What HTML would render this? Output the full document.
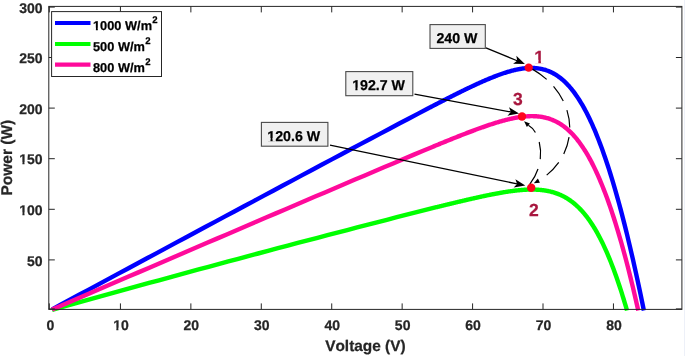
<!DOCTYPE html>
<html><head><meta charset="utf-8"><style>
html,body{margin:0;padding:0;background:#fff;}
body{width:685px;height:356px;overflow:hidden;font-family:"Liberation Sans",sans-serif;}
svg{display:block;will-change:transform;}
text{font-family:"Liberation Sans",sans-serif;font-weight:bold;font-kerning:none;text-rendering:geometricPrecision;}
</style></head><body>
<svg width="685" height="356" viewBox="0 0 685 356">
<rect x="684" y="0" width="1" height="356" fill="#edf0f8"/>
<g fill="none" stroke-width="4.4" stroke-linejoin="round" stroke-linecap="butt">
<path d="M52.11 309.36 L59.70 305.27 L69.40 300.04 L79.10 294.81 L88.80 289.59 L98.51 284.36 L108.21 279.14 L117.91 273.93 L127.61 268.71 L137.31 263.49 L147.01 258.28 L156.71 253.07 L166.41 247.86 L176.11 242.66 L185.82 237.45 L195.52 232.25 L205.22 227.05 L214.92 221.85 L224.62 216.65 L234.32 211.46 L244.02 206.27 L253.72 201.08 L263.43 195.89 L273.13 190.70 L282.83 185.52 L292.53 180.34 L302.23 175.16 L311.93 169.98 L321.63 164.81 L331.33 159.64 L341.04 154.47 L350.74 149.30 L360.44 144.14 L370.14 138.98 L379.85 133.83 L389.55 128.69 L399.26 123.55 L408.97 118.43 L418.68 113.33 L428.39 108.25 L429.08 107.90 L429.77 107.54 L430.46 107.18 L431.15 106.82 L431.84 106.46 L432.53 106.11 L433.22 105.75 L433.91 105.39 L434.60 105.03 L435.29 104.68 L435.98 104.32 L436.67 103.96 L437.36 103.61 L438.05 103.25 L438.74 102.90 L439.43 102.54 L440.12 102.19 L440.81 101.83 L441.51 101.48 L442.20 101.12 L442.89 100.77 L443.58 100.42 L444.27 100.06 L444.96 99.71 L445.65 99.36 L446.34 99.01 L447.03 98.66 L447.72 98.31 L448.41 97.95 L449.10 97.60 L449.80 97.25 L450.49 96.91 L451.18 96.56 L451.87 96.21 L452.56 95.86 L453.25 95.51 L453.94 95.17 L454.64 94.82 L455.33 94.47 L456.02 94.13 L456.71 93.78 L457.40 93.44 L458.10 93.09 L458.79 92.75 L459.48 92.41 L460.17 92.07 L460.87 91.73 L461.56 91.39 L462.25 91.05 L462.94 90.71 L463.64 90.37 L464.33 90.03 L465.02 89.69 L465.72 89.36 L466.41 89.02 L467.10 88.69 L467.80 88.36 L468.49 88.02 L469.19 87.69 L469.88 87.36 L470.57 87.03 L471.27 86.70 L471.96 86.37 L472.66 86.05 L473.35 85.72 L474.05 85.40 L474.74 85.07 L475.44 84.75 L476.13 84.43 L476.83 84.11 L477.53 83.79 L478.22 83.47 L478.92 83.16 L479.62 82.84 L480.31 82.53 L481.01 82.22 L481.71 81.91 L482.41 81.60 L483.10 81.29 L483.80 80.98 L484.50 80.68 L485.20 80.38 L485.90 80.08 L486.60 79.78 L487.30 79.48 L488.00 79.18 L488.70 78.89 L489.40 78.60 L490.10 78.31 L490.80 78.02 L491.50 77.74 L492.20 77.45 L492.90 77.17 L493.60 76.89 L494.31 76.62 L495.01 76.34 L495.71 76.07 L496.42 75.81 L497.12 75.54 L497.83 75.28 L498.53 75.02 L499.24 74.76 L499.94 74.50 L500.65 74.25 L501.36 74.00 L502.06 73.76 L502.77 73.52 L503.48 73.28 L504.19 73.04 L504.90 72.81 L505.61 72.58 L506.32 72.36 L507.03 72.14 L507.74 71.92 L508.45 71.71 L509.16 71.51 L509.88 71.30 L510.59 71.10 L511.31 70.91 L512.02 70.72 L512.74 70.53 L513.45 70.35 L514.17 70.18 L514.89 70.01 L515.61 69.85 L516.33 69.69 L517.05 69.53 L517.77 69.39 L518.49 69.25 L519.22 69.11 L519.94 68.98 L520.67 68.86 L521.39 68.74 L522.12 68.64 L522.85 68.53 L523.58 68.44 L524.31 68.35 L525.04 68.27 L525.77 68.20 L526.50 68.14 L527.24 68.08 L527.97 68.04 L528.71 68.00 L529.45 67.97 L530.19 67.95 L530.93 67.94 L531.67 67.94 L532.41 67.95 L533.16 67.97 L533.91 68.00 L534.65 68.05 L535.40 68.10 L536.15 68.16 L536.91 68.24 L537.66 68.33 L538.42 68.43 L539.17 68.55 L539.93 68.67 L540.70 68.81 L541.46 68.97 L542.22 69.14 L542.99 69.32 L543.76 69.52 L544.53 69.74 L545.31 69.97 L546.08 70.21 L546.86 70.48 L547.64 70.76 L548.42 71.06 L549.21 71.38 L549.99 71.71 L550.78 72.07 L551.58 72.45 L552.37 72.84 L553.17 73.26 L553.97 73.70 L554.78 74.16 L555.58 74.65 L556.39 75.16 L557.21 75.69 L558.02 76.25 L558.84 76.83 L559.67 77.44 L560.49 78.08 L561.32 78.74 L562.16 79.43 L562.99 80.16 L563.84 80.91 L564.68 81.69 L565.53 82.51 L566.38 83.36 L567.24 84.24 L568.10 85.16 L568.97 86.11 L569.84 87.10 L570.72 88.13 L571.60 89.20 L572.49 90.31 L573.38 91.45 L574.27 92.64 L575.18 93.88 L576.08 95.16 L577.00 96.48 L577.91 97.86 L578.84 99.28 L579.77 100.75 L580.71 102.28 L581.65 103.85 L582.60 105.48 L583.56 107.17 L584.52 108.92 L585.49 110.72 L586.47 112.59 L587.46 114.52 L588.45 116.52 L589.45 118.58 L590.46 120.71 L591.48 122.91 L592.51 125.19 L593.54 127.54 L594.59 129.96 L595.64 132.47 L596.70 135.06 L597.77 137.73 L598.86 140.49 L599.95 143.34 L601.05 146.28 L602.17 149.32 L603.29 152.45 L604.43 155.69 L605.57 159.03 L606.73 162.47 L607.91 166.02 L609.09 169.69 L610.29 173.48 L611.50 177.38 L612.72 181.41 L613.96 185.57 L615.21 189.85 L616.48 194.28 L617.76 198.84 L619.05 203.54 L620.37 208.40 L621.69 213.41 L623.04 218.57 L624.40 223.90 L625.78 229.40 L627.18 235.06 L628.59 240.91 L630.03 246.94 L631.48 253.16 L632.95 259.57 L634.45 266.19 L635.96 273.02 L637.50 280.06 L639.06 287.32 L640.64 294.81 L642.24 302.53 L643.87 310.50" stroke="#0000ff"/>
<path d="M52.11 309.91 L59.91 307.72 L69.82 304.94 L79.72 302.17 L89.63 299.41 L99.54 296.65 L109.45 293.90 L119.36 291.16 L129.26 288.43 L139.17 285.70 L149.08 282.98 L158.99 280.26 L168.89 277.56 L178.80 274.86 L188.71 272.16 L198.62 269.48 L208.53 266.80 L218.43 264.12 L228.34 261.46 L238.25 258.80 L248.16 256.15 L258.07 253.50 L267.97 250.87 L277.88 248.24 L287.79 245.61 L297.70 242.99 L307.60 240.38 L317.51 237.78 L327.42 235.19 L337.33 232.60 L347.24 230.02 L357.15 227.44 L367.05 224.88 L376.96 222.32 L386.87 219.77 L396.78 217.23 L406.69 214.70 L416.60 212.19 L426.52 209.69 L436.43 207.22 L437.10 207.05 L437.77 206.89 L438.44 206.72 L439.11 206.56 L439.78 206.39 L440.45 206.22 L441.13 206.06 L441.80 205.89 L442.47 205.73 L443.14 205.56 L443.81 205.40 L444.48 205.23 L445.15 205.07 L445.82 204.91 L446.49 204.74 L447.16 204.58 L447.83 204.41 L448.50 204.25 L449.17 204.09 L449.85 203.92 L450.52 203.76 L451.19 203.60 L451.86 203.43 L452.53 203.27 L453.20 203.11 L453.87 202.95 L454.54 202.79 L455.21 202.63 L455.89 202.46 L456.56 202.30 L457.23 202.14 L457.90 201.98 L458.57 201.82 L459.24 201.66 L459.91 201.50 L460.58 201.34 L461.26 201.18 L461.93 201.03 L462.60 200.87 L463.27 200.71 L463.94 200.55 L464.61 200.39 L465.29 200.24 L465.96 200.08 L466.63 199.92 L467.30 199.77 L467.97 199.61 L468.65 199.46 L469.32 199.30 L469.99 199.15 L470.66 199.00 L471.33 198.84 L472.01 198.69 L472.68 198.54 L473.35 198.38 L474.02 198.23 L474.70 198.08 L475.37 197.93 L476.04 197.78 L476.71 197.63 L477.39 197.48 L478.06 197.33 L478.73 197.18 L479.40 197.04 L480.08 196.89 L480.75 196.74 L481.42 196.60 L482.10 196.45 L482.77 196.31 L483.44 196.17 L484.12 196.02 L484.79 195.88 L485.47 195.74 L486.14 195.60 L486.81 195.46 L487.49 195.32 L488.16 195.18 L488.84 195.04 L489.51 194.91 L490.19 194.77 L490.86 194.64 L491.53 194.50 L492.21 194.37 L492.88 194.24 L493.56 194.11 L494.23 193.98 L494.91 193.85 L495.59 193.72 L496.26 193.59 L496.94 193.47 L497.61 193.34 L498.29 193.22 L498.97 193.10 L499.64 192.98 L500.32 192.86 L501.00 192.74 L501.67 192.62 L502.35 192.51 L503.03 192.39 L503.71 192.28 L504.38 192.17 L505.06 192.06 L505.74 191.95 L506.42 191.84 L507.10 191.74 L507.78 191.64 L508.45 191.53 L509.13 191.44 L509.81 191.34 L510.49 191.24 L511.17 191.15 L511.85 191.06 L512.53 190.97 L513.21 190.88 L513.90 190.79 L514.58 190.71 L515.26 190.63 L515.94 190.55 L516.62 190.48 L517.31 190.40 L517.99 190.33 L518.67 190.26 L519.36 190.20 L520.04 190.13 L520.72 190.07 L521.41 190.02 L522.09 189.96 L522.78 189.91 L523.47 189.86 L524.15 189.82 L524.84 189.78 L525.53 189.74 L526.21 189.71 L526.90 189.67 L527.59 189.65 L528.28 189.62 L528.97 189.60 L529.66 189.59 L530.35 189.58 L531.04 189.57 L531.73 189.57 L532.42 189.57 L533.12 189.57 L533.81 189.58 L534.50 189.60 L535.20 189.62 L535.89 189.65 L536.59 189.68 L537.28 189.71 L537.98 189.75 L538.68 189.80 L539.38 189.85 L540.08 189.91 L540.78 189.98 L541.48 190.05 L542.18 190.13 L542.88 190.21 L543.59 190.30 L544.29 190.40 L544.99 190.51 L545.70 190.62 L546.41 190.74 L547.11 190.87 L547.82 191.00 L548.53 191.15 L549.24 191.30 L549.95 191.46 L550.67 191.63 L551.38 191.81 L552.10 192.00 L552.81 192.20 L553.53 192.40 L554.25 192.62 L554.97 192.85 L555.69 193.09 L556.41 193.34 L557.13 193.60 L557.86 193.87 L558.59 194.16 L559.31 194.46 L560.04 194.76 L560.77 195.09 L561.51 195.42 L562.24 195.77 L562.98 196.14 L563.71 196.51 L564.45 196.91 L565.19 197.31 L565.94 197.74 L566.68 198.18 L567.43 198.63 L568.18 199.11 L568.93 199.60 L569.68 200.10 L570.43 200.63 L571.19 201.17 L571.95 201.74 L572.71 202.32 L573.47 202.93 L574.24 203.55 L575.01 204.20 L575.78 204.87 L576.55 205.56 L577.33 206.27 L578.11 207.01 L578.89 207.78 L579.68 208.57 L580.46 209.38 L581.25 210.22 L582.05 211.09 L582.84 211.99 L583.64 212.92 L584.45 213.87 L585.25 214.86 L586.06 215.88 L586.88 216.93 L587.70 218.01 L588.52 219.13 L589.34 220.29 L590.17 221.48 L591.01 222.70 L591.84 223.97 L592.68 225.27 L593.53 226.62 L594.38 228.00 L595.24 229.43 L596.10 230.90 L596.96 232.42 L597.83 233.99 L598.71 235.60 L599.59 237.26 L600.47 238.97 L601.36 240.73 L602.26 242.55 L603.16 244.42 L604.07 246.34 L604.99 248.33 L605.91 250.37 L606.83 252.47 L607.77 254.64 L608.71 256.87 L609.66 259.17 L610.61 261.54 L611.57 263.98 L612.54 266.49 L613.52 269.07 L614.50 271.73 L615.50 274.47 L616.50 277.29 L617.51 280.20 L618.53 283.19 L619.55 286.26 L620.59 289.43 L621.64 292.69 L622.69 296.05 L623.76 299.51 L624.83 303.07 L625.92 306.73 L627.02 310.50" stroke="#00ff00"/>
<path d="M52.11 309.59 L59.82 306.26 L69.64 302.01 L79.46 297.77 L89.28 293.54 L99.10 289.30 L108.92 285.06 L118.74 280.83 L128.56 276.60 L138.38 272.37 L148.20 268.15 L158.02 263.92 L167.84 259.70 L177.66 255.48 L187.47 251.26 L197.29 247.04 L207.11 242.83 L216.93 238.62 L226.75 234.40 L236.57 230.20 L246.39 225.99 L256.21 221.78 L266.03 217.58 L275.85 213.38 L285.67 209.18 L295.49 204.98 L305.31 200.79 L315.13 196.60 L324.95 192.41 L334.77 188.22 L344.59 184.03 L354.41 179.85 L364.23 175.67 L374.05 171.50 L383.88 167.33 L393.70 163.17 L403.52 159.02 L413.35 154.88 L423.18 150.77 L433.01 146.68 L433.70 146.40 L434.38 146.11 L435.06 145.83 L435.75 145.55 L436.43 145.27 L437.11 144.99 L437.80 144.70 L438.48 144.42 L439.16 144.14 L439.85 143.86 L440.53 143.58 L441.21 143.30 L441.90 143.02 L442.58 142.74 L443.26 142.46 L443.95 142.18 L444.63 141.90 L445.31 141.62 L446.00 141.35 L446.68 141.07 L447.37 140.79 L448.05 140.51 L448.73 140.24 L449.42 139.96 L450.10 139.68 L450.79 139.41 L451.47 139.13 L452.15 138.86 L452.84 138.58 L453.52 138.31 L454.21 138.03 L454.89 137.76 L455.58 137.48 L456.26 137.21 L456.94 136.94 L457.63 136.67 L458.31 136.40 L459.00 136.12 L459.68 135.85 L460.37 135.58 L461.05 135.31 L461.74 135.05 L462.42 134.78 L463.11 134.51 L463.80 134.24 L464.48 133.98 L465.17 133.71 L465.85 133.44 L466.54 133.18 L467.22 132.91 L467.91 132.65 L468.60 132.39 L469.28 132.13 L469.97 131.87 L470.65 131.60 L471.34 131.34 L472.03 131.09 L472.71 130.83 L473.40 130.57 L474.09 130.31 L474.78 130.06 L475.46 129.80 L476.15 129.55 L476.84 129.30 L477.53 129.04 L478.21 128.79 L478.90 128.54 L479.59 128.29 L480.28 128.05 L480.97 127.80 L481.65 127.55 L482.34 127.31 L483.03 127.07 L483.72 126.82 L484.41 126.58 L485.10 126.34 L485.79 126.11 L486.48 125.87 L487.17 125.63 L487.86 125.40 L488.55 125.17 L489.24 124.94 L489.93 124.71 L490.62 124.48 L491.32 124.25 L492.01 124.03 L492.70 123.80 L493.39 123.58 L494.08 123.36 L494.78 123.15 L495.47 122.93 L496.16 122.72 L496.86 122.51 L497.55 122.30 L498.24 122.09 L498.94 121.88 L499.63 121.68 L500.33 121.48 L501.02 121.28 L501.72 121.08 L502.41 120.89 L503.11 120.70 L503.81 120.51 L504.50 120.33 L505.20 120.14 L505.90 119.96 L506.60 119.79 L507.30 119.61 L508.00 119.44 L508.70 119.27 L509.40 119.11 L510.10 118.95 L510.80 118.79 L511.50 118.63 L512.20 118.48 L512.90 118.33 L513.61 118.19 L514.31 118.05 L515.01 117.91 L515.72 117.78 L516.42 117.65 L517.13 117.53 L517.83 117.41 L518.54 117.30 L519.25 117.19 L519.96 117.08 L520.67 116.98 L521.37 116.89 L522.08 116.80 L522.80 116.71 L523.51 116.63 L524.22 116.56 L524.93 116.49 L525.65 116.43 L526.36 116.37 L527.08 116.32 L527.79 116.28 L528.51 116.24 L529.23 116.21 L529.95 116.19 L530.67 116.17 L531.39 116.16 L532.11 116.16 L532.83 116.16 L533.56 116.18 L534.28 116.20 L535.01 116.23 L535.73 116.27 L536.46 116.31 L537.19 116.37 L537.92 116.44 L538.65 116.51 L539.39 116.59 L540.12 116.69 L540.86 116.79 L541.59 116.91 L542.33 117.03 L543.07 117.17 L543.81 117.32 L544.55 117.48 L545.30 117.65 L546.04 117.83 L546.79 118.03 L547.54 118.24 L548.29 118.46 L549.04 118.70 L549.80 118.95 L550.55 119.21 L551.31 119.49 L552.07 119.78 L552.83 120.09 L553.60 120.42 L554.36 120.76 L555.13 121.12 L555.90 121.50 L556.67 121.89 L557.45 122.30 L558.22 122.74 L559.00 123.19 L559.78 123.66 L560.57 124.15 L561.35 124.66 L562.14 125.19 L562.93 125.75 L563.73 126.32 L564.53 126.92 L565.33 127.55 L566.13 128.20 L566.93 128.87 L567.74 129.57 L568.56 130.30 L569.37 131.05 L570.19 131.83 L571.01 132.64 L571.84 133.48 L572.67 134.35 L573.50 135.25 L574.34 136.19 L575.18 137.15 L576.03 138.15 L576.88 139.19 L577.73 140.26 L578.59 141.37 L579.45 142.51 L580.31 143.69 L581.19 144.92 L582.06 146.18 L582.94 147.49 L583.83 148.84 L584.72 150.23 L585.61 151.67 L586.51 153.15 L587.42 154.69 L588.33 156.27 L589.25 157.90 L590.18 159.59 L591.11 161.33 L592.04 163.13 L592.98 164.98 L593.93 166.89 L594.89 168.86 L595.85 170.89 L596.82 172.98 L597.80 175.14 L598.78 177.37 L599.77 179.67 L600.77 182.03 L601.78 184.47 L602.80 186.99 L603.82 189.58 L604.85 192.25 L605.90 195.00 L606.95 197.84 L608.00 200.76 L609.07 203.77 L610.15 206.87 L611.24 210.06 L612.34 213.35 L613.45 216.74 L614.57 220.24 L615.70 223.83 L616.84 227.54 L617.99 231.35 L619.16 235.28 L620.34 239.33 L621.53 243.50 L622.73 247.80 L623.94 252.22 L625.17 256.77 L626.42 261.46 L627.67 266.29 L628.94 271.27 L630.23 276.39 L631.53 281.67 L632.84 287.10 L634.18 292.69 L635.52 298.46 L636.89 304.39 L638.27 310.50" stroke="#ff0a9b"/>
</g>
<g stroke="#262626" stroke-width="1" fill="none">
<rect x="48.80" y="6.40" width="633.10" height="303.00"/>
<path d="M49.30 309.40 V303.40 M49.30 6.40 V12.40"/>
<path d="M120.43 309.40 V303.40 M120.43 6.40 V12.40"/>
<path d="M190.86 309.40 V303.40 M190.86 6.40 V12.40"/>
<path d="M261.29 309.40 V303.40 M261.29 6.40 V12.40"/>
<path d="M331.72 309.40 V303.40 M331.72 6.40 V12.40"/>
<path d="M402.15 309.40 V303.40 M402.15 6.40 V12.40"/>
<path d="M472.58 309.40 V303.40 M472.58 6.40 V12.40"/>
<path d="M543.01 309.40 V303.40 M543.01 6.40 V12.40"/>
<path d="M613.44 309.40 V303.40 M613.44 6.40 V12.40"/>
<path d="M48.80 308.90 H54.80 M681.90 308.90 H675.90"/>
<path d="M48.80 259.90 H54.80 M681.90 259.90 H675.90"/>
<path d="M48.80 209.30 H54.80 M681.90 209.30 H675.90"/>
<path d="M48.80 158.70 H54.80 M681.90 158.70 H675.90"/>
<path d="M48.80 108.10 H54.80 M681.90 108.10 H675.90"/>
<path d="M48.80 57.50 H54.80 M681.90 57.50 H675.90"/>
<path d="M48.80 7.10 H54.80 M681.90 7.10 H675.90"/>
</g>
<text x="50.50" y="330.30" font-size="14.00" fill="#262626" text-anchor="middle" stroke="#262626" stroke-width="0.25" stroke-linejoin="round">0</text>
<text x="120.93" y="330.30" font-size="14.00" fill="#262626" text-anchor="middle" stroke="#262626" stroke-width="0.25" stroke-linejoin="round">10</text><path d="M113.33 327.87 H116.33 V331.30 H113.33 Z M118.41 327.87 H121.24 V331.30 H118.41 Z" fill="#fff"/>
<text x="191.36" y="330.30" font-size="14.00" fill="#262626" text-anchor="middle" stroke="#262626" stroke-width="0.25" stroke-linejoin="round">20</text>
<text x="261.79" y="330.30" font-size="14.00" fill="#262626" text-anchor="middle" stroke="#262626" stroke-width="0.25" stroke-linejoin="round">30</text>
<text x="332.22" y="330.30" font-size="14.00" fill="#262626" text-anchor="middle" stroke="#262626" stroke-width="0.25" stroke-linejoin="round">40</text>
<text x="402.65" y="330.30" font-size="14.00" fill="#262626" text-anchor="middle" stroke="#262626" stroke-width="0.25" stroke-linejoin="round">50</text>
<text x="473.08" y="330.30" font-size="14.00" fill="#262626" text-anchor="middle" stroke="#262626" stroke-width="0.25" stroke-linejoin="round">60</text>
<text x="543.51" y="330.30" font-size="14.00" fill="#262626" text-anchor="middle" stroke="#262626" stroke-width="0.25" stroke-linejoin="round">70</text>
<text x="613.94" y="330.30" font-size="14.00" fill="#262626" text-anchor="middle" stroke="#262626" stroke-width="0.25" stroke-linejoin="round">80</text>
<text x="42.60" y="265.60" font-size="14.00" fill="#262626" text-anchor="end" stroke="#262626" stroke-width="0.25" stroke-linejoin="round">50</text>
<text x="42.60" y="215.00" font-size="14.00" fill="#262626" text-anchor="end" stroke="#262626" stroke-width="0.25" stroke-linejoin="round">100</text><path d="M19.42 212.57 H22.43 V216.00 H19.42 Z M24.51 212.57 H27.34 V216.00 H24.51 Z" fill="#fff"/>
<text x="42.60" y="164.40" font-size="14.00" fill="#262626" text-anchor="end" stroke="#262626" stroke-width="0.25" stroke-linejoin="round">150</text><path d="M19.42 161.97 H22.43 V165.40 H19.42 Z M24.51 161.97 H27.34 V165.40 H24.51 Z" fill="#fff"/>
<text x="42.60" y="113.80" font-size="14.00" fill="#262626" text-anchor="end" stroke="#262626" stroke-width="0.25" stroke-linejoin="round">200</text>
<text x="42.60" y="63.20" font-size="14.00" fill="#262626" text-anchor="end" stroke="#262626" stroke-width="0.25" stroke-linejoin="round">250</text>
<text x="42.60" y="12.60" font-size="14.00" fill="#262626" text-anchor="end" stroke="#262626" stroke-width="0.25" stroke-linejoin="round">300</text>
<text x="365.40" y="350.50" font-size="15.40" fill="#262626" text-anchor="middle" stroke="#262626" stroke-width="0.25" stroke-linejoin="round">Voltage (V)</text>
<g transform="translate(12.0 157.7) rotate(-90)"><text x="0.00" y="0.00" font-size="15.50" fill="#262626" text-anchor="middle" stroke="#262626" stroke-width="0.25" stroke-linejoin="round">Power (W)</text></g>
<rect x="51.6" y="11.6" width="109.9" height="64.9" fill="#fff" stroke="#262626" stroke-width="1"/>
<path d="M55 23.0 H90.5" stroke="#0000ff" stroke-width="4.2"/>
<path d="M55 44.0 H90.5" stroke="#00ff00" stroke-width="4.2"/>
<path d="M55 64.7 H90.5" stroke="#ff0a9b" stroke-width="4.2"/>
<text x="93.00" y="30.00" font-size="12.80" fill="#000" stroke="#000" stroke-width="0.25" stroke-linejoin="round">1000 W/m</text><path d="M93.11 27.69 H95.91 V31.00 H93.11 Z M97.82 27.69 H100.46 V31.00 H97.82 Z" fill="#fff"/>
<text x="152.35" y="23.00" font-size="9.60" fill="#000" stroke="#000" stroke-width="0.25" stroke-linejoin="round">2</text>
<text x="93.00" y="51.00" font-size="12.80" fill="#000" stroke="#000" stroke-width="0.25" stroke-linejoin="round">500 W/m</text>
<text x="145.23" y="44.00" font-size="9.60" fill="#000" stroke="#000" stroke-width="0.25" stroke-linejoin="round">2</text>
<text x="93.00" y="72.00" font-size="12.80" fill="#000" stroke="#000" stroke-width="0.25" stroke-linejoin="round">800 W/m</text>
<text x="145.23" y="65.00" font-size="9.60" fill="#000" stroke="#000" stroke-width="0.25" stroke-linejoin="round">2</text>
<rect x="430.0" y="24.6" width="55.3" height="23.8" fill="#f0f0f0" stroke="#4a4a4a" stroke-width="1.1"/>
<text x="457.00" y="42.90" font-size="14.20" fill="#000" text-anchor="middle" stroke="#000" stroke-width="0.25" stroke-linejoin="round">240 W</text>
<rect x="345.8" y="71.6" width="67.0" height="24.1" fill="#f0f0f0" stroke="#4a4a4a" stroke-width="1.1"/>
<text x="378.60" y="90.10" font-size="14.20" fill="#000" text-anchor="middle" stroke="#000" stroke-width="0.25" stroke-linejoin="round">192.7 W</text><path d="M352.35 87.65 H355.39 V91.10 H352.35 Z M357.50 87.65 H360.36 V91.10 H357.50 Z" fill="#f0f0f0"/>
<rect x="261.4" y="122.4" width="66.5" height="23.8" fill="#f0f0f0" stroke="#4a4a4a" stroke-width="1.1"/>
<text x="293.70" y="140.50" font-size="14.20" fill="#000" text-anchor="middle" stroke="#000" stroke-width="0.25" stroke-linejoin="round">120.6 W</text><path d="M267.45 138.05 H270.49 V141.50 H267.45 Z M272.60 138.05 H275.46 V141.50 H272.60 Z" fill="#f0f0f0"/>
<path d="M485.90 47.90 L517.17 60.73" stroke="#000" stroke-width="1.3" fill="none"/><path d="M524.90 63.90 L513.09 63.70 L517.17 60.73 L516.36 55.75 Z" fill="#000"/>
<path d="M414.50 94.20 L510.83 111.98" stroke="#000" stroke-width="1.3" fill="none"/><path d="M519.05 113.50 L507.45 115.73 L510.83 111.98 L509.01 107.27 Z" fill="#000"/>
<path d="M330.00 145.10 L517.11 183.90" stroke="#000" stroke-width="1.3" fill="none"/><path d="M525.30 185.60 L513.66 187.58 L517.11 183.90 L515.40 179.16 Z" fill="#000"/>
<path d="M530.5 68.0 C579.54 95.0 582.94 153.26 538.9 180.65" stroke="#000" stroke-width="1.2" fill="none" stroke-dasharray="17.6 9.8" stroke-dashoffset="-2.2"/>
<path d="M533.80 183.20 L537.87 178.59 L539.93 182.71 Z" fill="#000"/>
<path d="M529.6 184.5 C548.38 160.3 539.82 131.38 528.4 125.2" stroke="#000" stroke-width="1.2" fill="none" stroke-dasharray="17.2 10.2" stroke-dashoffset="-0.4"/>
<path d="M524.10 121.30 L529.95 123.50 L526.85 126.90 Z" fill="#000"/>
<circle cx="528.7" cy="67.6" r="4.2" fill="#ff051e"/>
<circle cx="522.0" cy="116.5" r="4.2" fill="#ff051e"/>
<circle cx="531.2" cy="187.7" r="4.2" fill="#ff051e"/>
<text x="539.20" y="62.50" font-size="17.50" fill="#a8173f" text-anchor="middle" stroke="#a8173f" stroke-width="0.25" stroke-linejoin="round">1</text><path d="M534.74 59.71 H538.34 V63.50 H534.74 Z M540.90 59.71 H544.28 V63.50 H540.90 Z" fill="#fff"/>
<text x="517.80" y="104.80" font-size="17.50" fill="#a8173f" text-anchor="middle" stroke="#a8173f" stroke-width="0.25" stroke-linejoin="round">3</text>
<text x="533.80" y="215.80" font-size="17.50" fill="#a8173f" text-anchor="middle" stroke="#a8173f" stroke-width="0.25" stroke-linejoin="round">2</text>
</svg>
</body></html>
